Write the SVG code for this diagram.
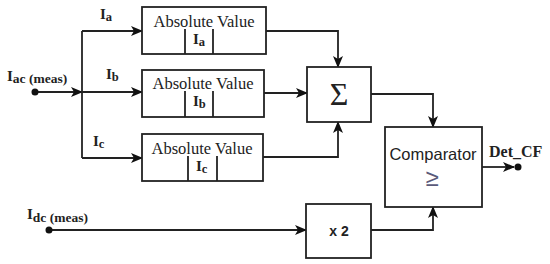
<svg xmlns="http://www.w3.org/2000/svg" width="550" height="264" viewBox="0 0 550 264">
<defs>
<style>
.box{fill:#fff;stroke:#222;stroke-width:1.8}
.ln{fill:none;stroke:#222;stroke-width:1.8}
.div{stroke:#222;stroke-width:1.8}
.av{font-family:"Liberation Serif","Times New Roman",serif;font-size:16.5px;fill:#222;text-anchor:middle}
.lbl{font-family:"Liberation Serif","Times New Roman",serif;font-weight:bold;font-size:15px;fill:#222}
.sub{font-size:12.5px}
.subm{font-size:13.5px}
.sans{font-family:"Liberation Sans",Arial,sans-serif;fill:#222}
</style>
<marker id="ar" viewBox="0 0 12 10" refX="11" refY="5" markerWidth="12" markerHeight="10" markerUnits="userSpaceOnUse" orient="auto">
<path d="M0,0 L12,5 L0,10 L3,5 Z" fill="#111"/>
</marker>
</defs>
<rect width="550" height="264" fill="#fff"/>

<g id="connectors">
<line class="ln" x1="35" y1="92" x2="82" y2="92" marker-end="url(#ar)"/>
<line class="ln" x1="82" y1="31" x2="82" y2="158"/>
<line class="ln" x1="82" y1="31" x2="142" y2="31" marker-end="url(#ar)"/>
<line class="ln" x1="82" y1="92" x2="142" y2="92" marker-end="url(#ar)"/>
<line class="ln" x1="82" y1="158" x2="142" y2="158" marker-end="url(#ar)"/>
<polyline class="ln" points="266,31 338,31 338,67" marker-end="url(#ar)"/>
<line class="ln" x1="264" y1="93" x2="307" y2="93" marker-end="url(#ar)"/>
<polyline class="ln" points="263,157 338,157 338,122" marker-end="url(#ar)"/>
<polyline class="ln" points="371,94 433,94 433,127" marker-end="url(#ar)"/>
<line class="ln" x1="49" y1="230" x2="306" y2="230" marker-end="url(#ar)"/>
<polyline class="ln" points="371,230 433,230 433,207" marker-end="url(#ar)"/>
<line class="ln" x1="482" y1="167" x2="514" y2="167" marker-end="url(#ar)"/>
<circle cx="35" cy="92" r="3.5" fill="#111"/>
<circle cx="49" cy="230" r="3.5" fill="#111"/>
<circle cx="518" cy="167" r="3.5" fill="#111"/>
</g>

<g id="label-iac">
<text class="lbl" x="7" y="81">I<tspan class="subm" dy="2">ac (meas)</tspan></text>
</g>
<g id="label-ia"><text class="lbl" x="100" y="19">I<tspan class="sub" dy="2">a</tspan></text></g>
<g id="label-ib"><text class="lbl" x="106" y="79">I<tspan class="sub" dy="2">b</tspan></text></g>
<g id="label-ic"><text class="lbl" x="93" y="146">I<tspan class="sub" dy="2">c</tspan></text></g>
<g id="label-idc">
<text class="lbl" x="27" y="219">I<tspan class="subm" dy="3">dc (meas)</tspan></text>
</g>

<g id="abs-a">
<rect class="box" x="142" y="7" width="124" height="47"/>
<line class="div" x1="185" y1="29" x2="185" y2="54"/>
<line class="div" x1="213" y1="29" x2="213" y2="54"/>
<text class="av" x="204" y="27">Absolute Value</text>
<text class="lbl" x="193" y="44">I<tspan class="sub" dy="2">a</tspan></text>
</g>

<g id="abs-b">
<rect class="box" x="142" y="70" width="122" height="47"/>
<line class="div" x1="185" y1="91" x2="185" y2="117"/>
<line class="div" x1="213" y1="91" x2="213" y2="117"/>
<text class="av" x="203" y="89">Absolute Value</text>
<text class="lbl" x="193" y="106">I<tspan class="sub" dy="2">b</tspan></text>
</g>

<g id="abs-c">
<rect class="box" x="142" y="134" width="121" height="47"/>
<line class="div" x1="188" y1="156" x2="188" y2="181"/>
<line class="div" x1="217" y1="156" x2="217" y2="181"/>
<text class="av" x="202" y="154">Absolute Value</text>
<text class="lbl" x="196" y="171">I<tspan class="sub" dy="2">c</tspan></text>
</g>

<g id="sum">
<rect class="box" x="307" y="67" width="64" height="55"/>
<text x="339" y="105" font-family="'Liberation Serif',serif" font-size="32" fill="#222" text-anchor="middle">Σ</text>
</g>

<g id="comparator">
<rect class="box" x="385" y="127" width="97" height="80"/>
<text class="sans" x="433" y="160" font-size="16.5" text-anchor="middle">Comparator</text>
<text x="432" y="186" font-family="'Liberation Sans',Arial,sans-serif" font-size="24" text-anchor="middle" fill="#5a5a7a">≥</text>
</g>

<g id="times2">
<rect class="box" x="306" y="204" width="65" height="54"/>
<text class="sans" x="339" y="236" font-size="14" font-weight="bold" text-anchor="middle">x 2</text>
</g>

<g id="label-det">
<text class="lbl" x="489" y="157" style="font-size:16px">Det_CF</text>
</g>
</svg>
